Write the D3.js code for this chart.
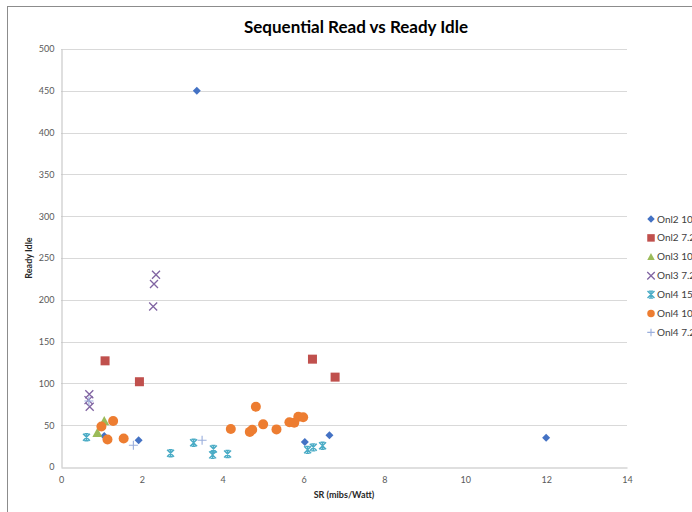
<!DOCTYPE html>
<html>
<head>
<meta charset="utf-8">
<script src="https://cdn.jsdelivr.net/npm/d3@7"></script>
<style>
  html, body { margin: 0; padding: 0; background: #fff; overflow: hidden; }
  svg { display: block; }
</style>
</head>
<body>
<svg id="chart" width="692" height="512"></svg>
<script>
// Series names and their (SR, Ready Idle) points
const seriesNames = ["Onl2 10K", "Onl2 7.2K", "Onl3 10K", "Onl3 7.2K", "Onl4 15K", "Onl4 10K", "Onl4 7.2K"];

const onl2_10k = [[3.36, 450], [1.07, 37], [1.92, 32], [6.03, 30], [6.64, 38], [12.0, 35]];
const onl2_72k = [[1.09, 127], [1.94, 102], [6.22, 129], [6.78, 107.5]];
const onl3_10k = [[0.90, 41], [1.07, 55]];
const onl3_72k = [[2.35, 230], [2.30, 219], [2.28, 192], [0.70, 87], [0.68, 80], [0.71, 72]];
const onl4_15k = [[0.63, 35.5], [2.71, 16.5], [3.28, 29], [3.77, 21.5], [3.75, 14.5], [4.12, 15.5],
                  [6.10, 20.5], [6.24, 23.5], [6.47, 25.5]];
const onl4_10k = [[1.00, 48.5], [1.29, 55], [1.15, 33], [1.55, 34], [4.20, 45.5], [4.82, 72],
                  [4.67, 42], [4.73, 44.5], [5.00, 51], [5.33, 45], [5.65, 53.5], [5.77, 53],
                  [5.87, 60], [5.99, 59.5]];
const onl4_72k = [[0.69, 79], [1.79, 26], [3.49, 32]];

const seriesData = [onl2_10k, onl2_72k, onl3_10k, onl3_72k, onl4_15k, onl4_10k, onl4_72k];

const xTicks = [0, 2, 4, 6, 8, 10, 12, 14];
const yTicks = [0, 50, 100, 150, 200, 250, 300, 350, 400, 450, 500];

const colors = ["#4472C4", "#C0504D", "#9BBB59", "#8064A2", "#4BACC6", "#ED7D31", "#9AAEDC"];
const shapes = ["diamond", "square", "triangle", "times", "star", "circle", "plus"];

const svg = d3.select("#chart");
const font = "Lato, 'Open Sans', sans-serif";

// outer chart frame
svg.append("rect")
  .attr("x", 7.5).attr("y", 6.5)
  .attr("width", 720).attr("height", 540)
  .attr("fill", "#fff").attr("stroke", "#8c8c8c").attr("stroke-width", 1);

const x = d3.scaleLinear().domain([0, 14]).range([61, 627]);
const y = d3.scaleLinear().domain([0, 500]).range([467, 49]);

// horizontal gridlines
svg.append("g")
  .selectAll("line")
  .data(yTicks.filter(t => t > 0))
  .join("line")
  .attr("x1", x(0)).attr("x2", x(14))
  .attr("y1", d => Math.round(y(d)) + 0.5).attr("y2", d => Math.round(y(d)) + 0.5)
  .attr("stroke", "#D9D9D9").attr("stroke-width", 1);

// axes
const xAxis = svg.append("g")
  .attr("transform", `translate(0,${Math.round(y(0)) + 0.5})`)
  .call(d3.axisBottom(x).tickValues(xTicks).tickSize(0).tickPadding(9).tickFormat(d3.format("d")));
const yAxis = svg.append("g")
  .attr("transform", `translate(${Math.round(x(0)) + 0.5},0)`)
  .call(d3.axisLeft(y).tickValues(yTicks).tickSize(0).tickPadding(7).tickFormat(d3.format("d")));

[xAxis, yAxis].forEach(g => {
  g.select(".domain").attr("stroke", "#BFBFBF");
  g.selectAll("text").attr("fill", "#595959").style("font-family", font).style("font-size", "9px");
});

// title and axis titles
svg.append("text")
  .attr("x", 356).attr("y", 33)
  .attr("text-anchor", "middle")
  .style("font-family", font).style("font-size", "17px").style("font-weight", "bold")
  .attr("fill", "#000")
  .text("Sequential Read vs Ready Idle");

svg.append("text")
  .attr("x", 344).attr("y", 498)
  .attr("text-anchor", "middle")
  .style("font-family", font).style("font-size", "9px").style("font-weight", "bold")
  .attr("fill", "#262626")
  .text("SR (mibs/Watt)");

svg.append("text")
  .attr("transform", "translate(32,258) rotate(-90)")
  .attr("text-anchor", "middle")
  .style("font-family", font).style("font-size", "9px").style("font-weight", "bold")
  .attr("fill", "#262626")
  .text("Ready Idle");

// marker drawing
function drawMarker(g, shape, color, s) {
  const h = s / 2;
  switch (shape) {
    case "diamond":
      g.append("path").attr("d", `M0,${-h}L${h},0L0,${h}L${-h},0Z`).attr("fill", color);
      break;
    case "square":
      g.append("rect").attr("x", -h).attr("y", -h).attr("width", s).attr("height", s).attr("fill", color);
      break;
    case "triangle":
      g.append("path").attr("d", `M0,${-h}L${h},${h * 0.85}L${-h},${h * 0.85}Z`).attr("fill", color);
      break;
    case "circle":
      g.append("circle").attr("r", h).attr("fill", color);
      break;
    case "times":
      g.append("path").attr("d", `M${-h},${-h}L${h},${h}M${h},${-h}L${-h},${h}`)
        .attr("stroke", color).attr("stroke-width", 1.3).attr("fill", "none");
      break;
    case "star":
      g.append("path").attr("d", `M${-h},${-h}L${h},${h}M${h},${-h}L${-h},${h}M0,${-h}L0,${h}M${-h * 0.6},${-h}L${h * 0.6},${-h}M${-h * 0.6},${h}L${h * 0.6},${h}`)
        .attr("stroke", color).attr("stroke-width", 1.4).attr("fill", "none");
      break;
    case "plus":
      g.append("path").attr("d", `M${-h},0L${h},0M0,${-h}L0,${h}`)
        .attr("stroke", color).attr("stroke-width", 1.1).attr("fill", "none");
      break;
  }
}

const sizes = { diamond: 8, square: 9, triangle: 10, circle: 10, times: 8, star: 7, plus: 9 };

// points
seriesData.forEach((pts, i) => {
  const g = svg.append("g").attr("class", "series");
  g.selectAll("g")
    .data(pts)
    .join("g")
    .attr("transform", d => `translate(${x(d[0])},${y(d[1])})`)
    .each(function () { drawMarker(d3.select(this), shapes[i], colors[i], sizes[shapes[i]]); });
});

// legend
const legend = svg.append("g");
seriesNames.forEach((name, i) => {
  const row = legend.append("g").attr("transform", `translate(651,${219 + i * 18.9})`);
  drawMarker(row, shapes[i], colors[i], Math.min(sizes[shapes[i]], 7.5));
  row.append("text")
    .attr("x", 6).attr("y", 3.5)
    .style("font-family", font).style("font-size", "10px")
    .attr("fill", "#404040")
    .text(name);
});
</script>
</body>
</html>
